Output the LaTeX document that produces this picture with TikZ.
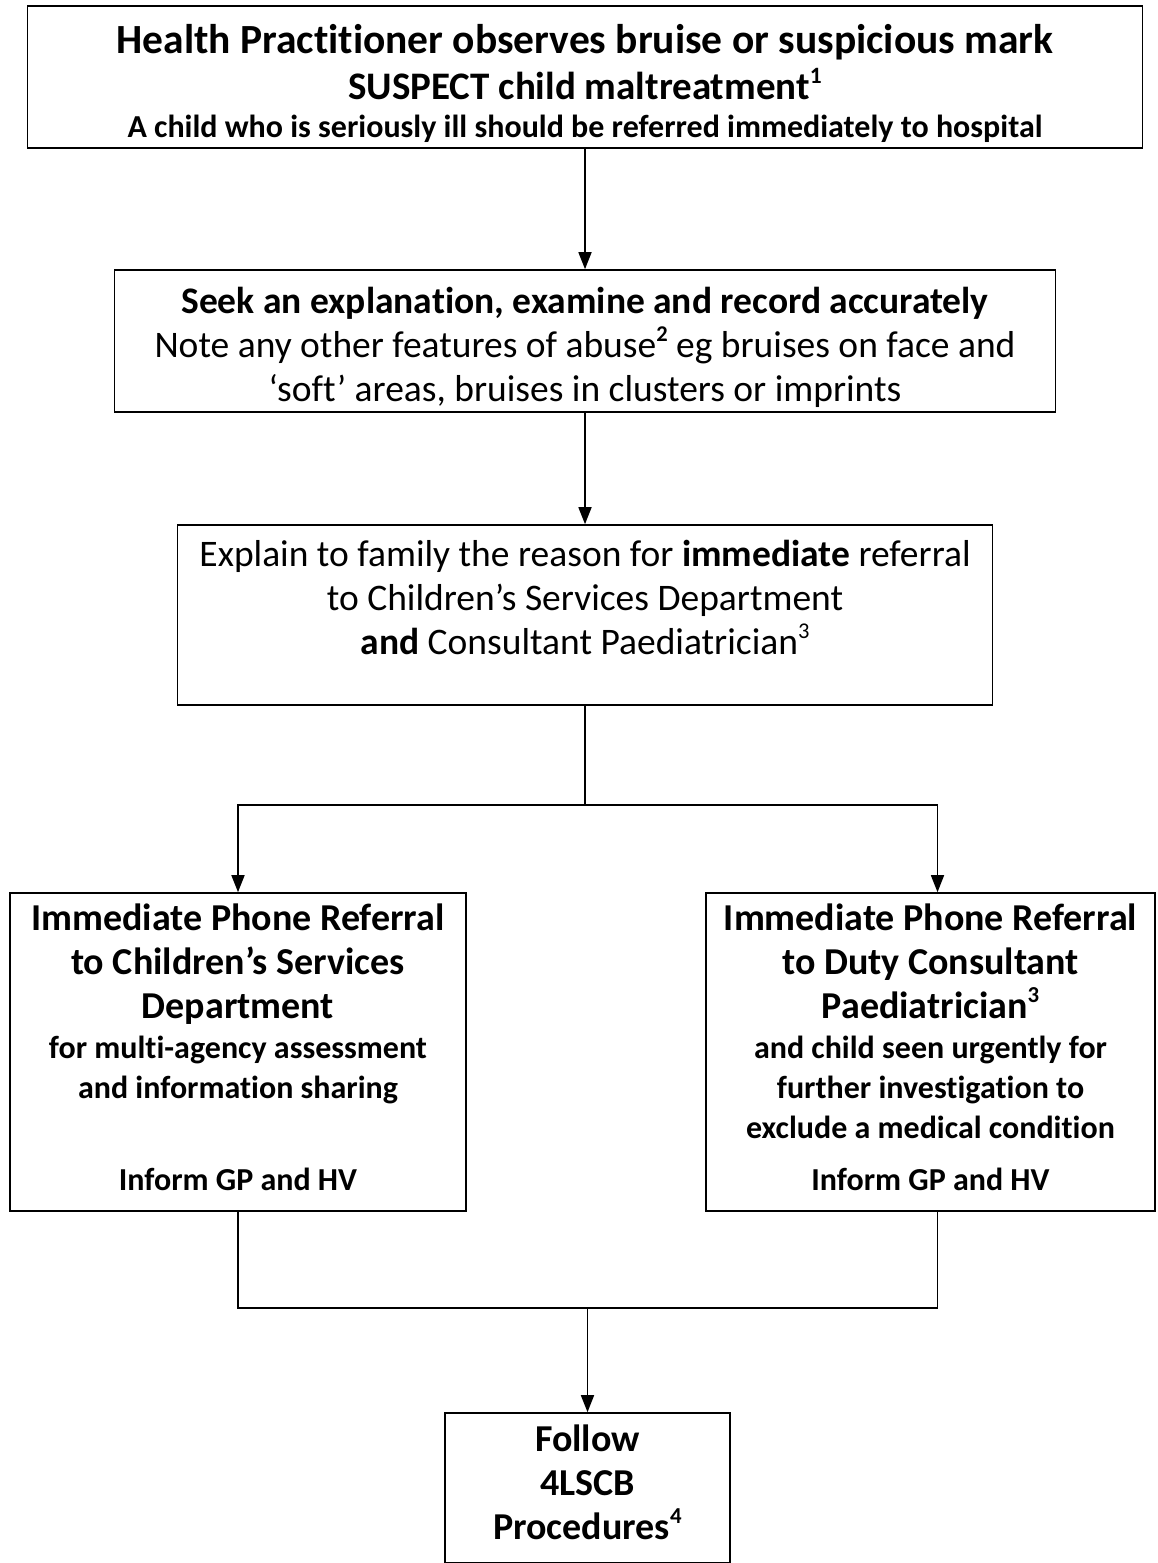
\documentclass[tikz,border=0pt]{standalone}
\usepackage{fontspec}
\usepackage{graphicx}
\setmainfont{Carlito}[RawFeature={-liga}]
\usetikzlibrary{arrows.meta}
\newcommand{\fsA}{\fontsize{41.5}{44}\selectfont}
\newcommand{\fsAA}{\fontsize{39}{44}\selectfont}
\newcommand{\fsB}{\fontsize{37.5}{44}\selectfont}
\newcommand{\fsD}{\fontsize{38}{44}\selectfont}
\newcommand{\fsC}{\fontsize{32}{44}\selectfont}
\newcommand{\supr}[1]{\raisebox{0.42em}{\scalebox{0.6}{#1}}}
\newcommand{\lines}[2]{\parbox[t]{#1}{\centering\fontsize{30}{44}\selectfont #2}}
\begin{document}
\begin{tikzpicture}[x=1pt,y=-1pt,
  box/.style={draw,line width=1.6pt,rectangle,inner sep=0pt},
  txt/.style={anchor=base,inner sep=0pt},
  arr/.style={line width=1.6pt,-{Triangle[length=17pt,width=13pt]}},
  ln/.style={line width=1.6pt}]
\useasboundingbox (0,0) rectangle (1157,1563);

% boxes
\node[box,minimum width=1115pt,minimum height=142pt] (b1) at (585,77) {};
\node[box,minimum width=941pt,minimum height=142pt] (b2) at (585,341) {};
\node[box,minimum width=815pt,minimum height=180pt] (b3) at (585,615) {};
\node[box,minimum width=456pt,minimum height=318pt] (bl) at (238,1052) {};
\node[box,minimum width=449pt,minimum height=318pt] (br) at (930.5,1052) {};
\node[box,minimum width=285pt,minimum height=150pt] (b5) at (587.5,1488) {};

% texts
\node[txt] (t1) at (585,54) {\lines{1100pt}{%
  {\fsA\bfseries Health Practitioner observes bruise or suspicious mark}\\[2pt]
  {\fsAA\bfseries SUSPECT child maltreatment\supr{1}}\\[-6pt]
  {\fsC\bfseries A child who is seriously ill should be referred immediately to hospital}}};

\node[txt] (t2) at (585,313) {\lines{930pt}{%
  {\fsB\bfseries Seek an explanation, examine and record accurately}\\
  {\fsB Note any other features of abuse\supr{\bfseries 2} eg bruises on face and}\\
  {\fsB ‘soft’ areas, bruises in clusters or imprints}}};

\node[txt] (t3) at (585,566) {\lines{805pt}{%
  {\fsB Explain to family the reason for \textbf{immediate} referral}\\
  {\fsB to Children’s Services Department}\\
  {\fsB \textbf{and} Consultant Paediatrician\supr{3}}}};

\node[txt] (tl) at (238,930) {\lines{450pt}{%
  {\fsD\bfseries Immediate Phone Referral}\\
  {\fsD\bfseries to Children’s Services}\\
  {\fsD\bfseries Department}\\[-4pt]
  {\fsC\bfseries for multi-agency assessment}\\[-4pt]
  {\fsC\bfseries and information sharing}\\[48pt]
  {\fsC\bfseries Inform GP and HV}}};

\node[txt] (tr) at (930.5,930) {\lines{445pt}{%
  {\fsD\bfseries Immediate Phone Referral}\\
  {\fsD\bfseries to Duty Consultant}\\
  {\fsD\bfseries Paediatrician\supr{3}}\\[-4pt]
  {\fsC\bfseries and child seen urgently for}\\[-4pt]
  {\fsC\bfseries further investigation to}\\[-4pt]
  {\fsC\bfseries exclude a medical condition}\\[8pt]
  {\fsC\bfseries Inform GP and HV}}};

\node[txt] (t5) at (587.5,1451) {\lines{280pt}{%
  {\fsD\bfseries Follow}\\
  {\fsD\bfseries 4LSCB}\\
  {\fsD\bfseries Procedures\supr{4}}}};

% connectors
\draw[arr] (b1.south) -- (b1.south |- b2.north);
\draw[arr] (b2.south) -- (b2.south |- b3.north);
\coordinate (j1) at (585,805);
\draw[ln] (b3.south) -- (j1);
\draw[arr] (j1) -| (bl.north);
\draw[arr] (j1) -| ([xshift=7pt]br.north);
\coordinate (j2) at (587.5,1308);
\draw[ln] (bl.south) |- (j2) -| ([xshift=7pt]br.south);
\draw[arr] (j2) -- (b5.north);
\end{tikzpicture}
\end{document}
